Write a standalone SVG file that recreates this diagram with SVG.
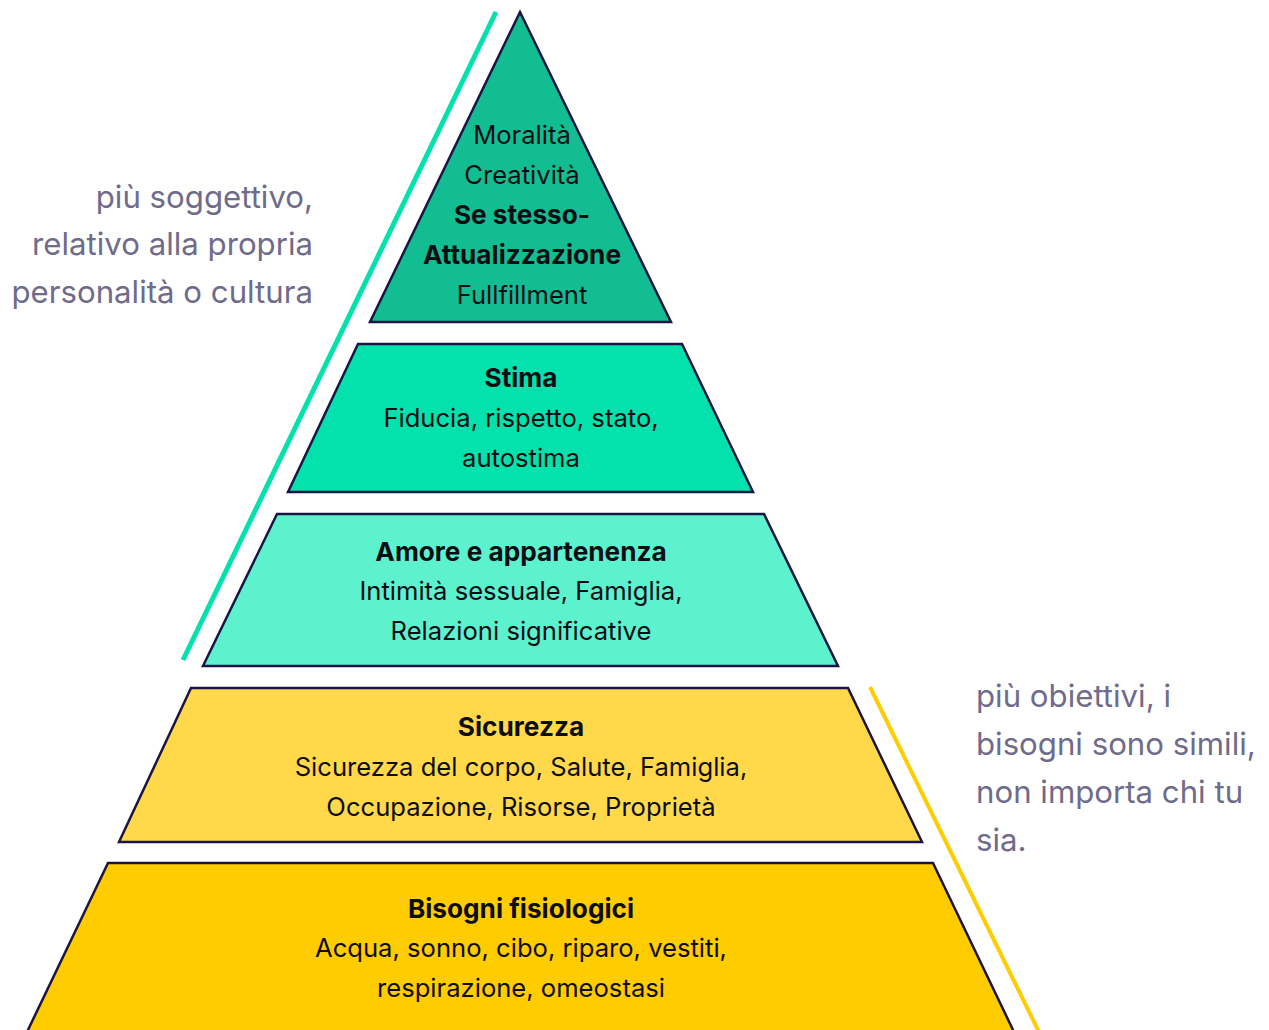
<svg xmlns="http://www.w3.org/2000/svg" width="1269" height="1030" viewBox="0 0 1269 1030">
<style>
.lvl{stroke:#1b1545;stroke-width:2.5;stroke-linejoin:miter}
.t{font-family:"Inter","Noto Sans",sans-serif;font-size:25.6px;fill:#0d0d14;text-anchor:middle}
.b{font-weight:700;font-size:26.2px}
.note{font-family:"Inter","Noto Sans",sans-serif;font-size:31.2px;fill:#6f6b8a}
</style>
<rect width="1269" height="1030" fill="#ffffff"/>
<g id="connectors">
<line x1="496" y1="12" x2="183" y2="660" stroke="#03e1ac" stroke-width="5"/>
<line x1="870" y1="687" x2="1039" y2="1032" stroke="#ffcc00" stroke-width="4"/>
</g>
<g id="level5">
<polygon class="lvl" points="520,12 671,322 370,322" fill="#13bd92"/>
<text class="t" x="522" y="144">Moralità</text>
<text class="t" x="522" y="184">Creatività</text>
<text class="t b" x="522" y="224">Se stesso-</text>
<text class="t b" x="522" y="264">Attualizzazione</text>
<text class="t" x="522" y="304">Fullfillment</text>
</g>
<g id="level4">
<polygon class="lvl" points="358,344 682,344 753,492 288,492" fill="#03e1ac"/>
<text class="t b" x="521" y="387">Stima</text>
<text class="t" x="521" y="427">Fiducia, rispetto, stato,</text>
<text class="t" x="521" y="467">autostima</text>
</g>
<g id="level3">
<polygon class="lvl" points="277,514 764,514 838,666 203,666" fill="#5cf2ce"/>
<text class="t b" x="521" y="561">Amore e appartenenza</text>
<text class="t" x="521" y="600">Intimità sessuale, Famiglia,</text>
<text class="t" x="521" y="640">Relazioni significative</text>
</g>
<g id="level2">
<polygon class="lvl" points="191,688 848,688 922,842 119,842" fill="#ffd94a"/>
<text class="t b" x="521" y="736">Sicurezza</text>
<text class="t" x="521" y="776">Sicurezza del corpo, Salute, Famiglia,</text>
<text class="t" x="521" y="816">Occupazione, Risorse, Proprietà</text>
</g>
<g id="level1">
<polygon class="lvl" points="108,863 933,863 1014,1032 27,1032" fill="#ffcc00"/>
<text class="t b" x="521" y="918">Bisogni fisiologici</text>
<text class="t" x="521" y="957">Acqua, sonno, cibo, riparo, vestiti,</text>
<text class="t" x="521" y="997">respirazione, omeostasi</text>
</g>
<g id="note-left">
<text class="note" x="313" y="208" text-anchor="end">più soggettivo,</text>
<text class="note" x="313" y="255" text-anchor="end">relativo alla propria</text>
<text class="note" x="313" y="303" text-anchor="end">personalità o cultura</text>
</g>
<g id="note-right">
<text class="note" x="976" y="707">più obiettivi, i</text>
<text class="note" x="976" y="755">bisogni sono simili,</text>
<text class="note" x="976" y="803">non importa chi tu</text>
<text class="note" x="976" y="851">sia.</text>
</g>
</svg>
